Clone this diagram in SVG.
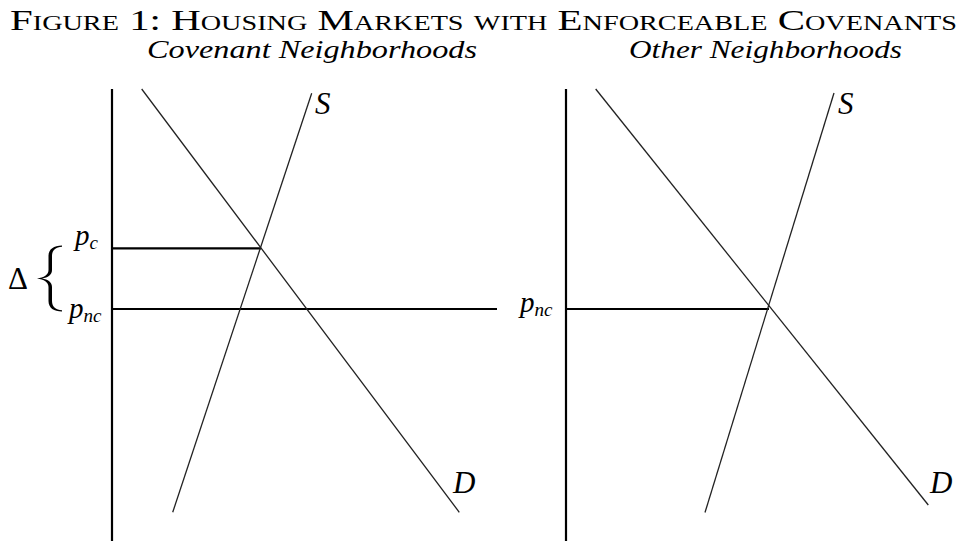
<svg xmlns="http://www.w3.org/2000/svg" width="962" height="541" viewBox="0 0 962 541">
<style>
.axis{stroke:#000;stroke-width:2.2;fill:none}
.hline{stroke:#000;stroke-width:2.2;fill:none}
.curve{stroke:#222;stroke-width:1.3;fill:none}
.lbl{font-family:"Liberation Serif",serif;font-style:italic;fill:#000}
.title{font-family:"Liberation Serif",serif;font-variant:small-caps;font-size:29px;fill:#000}
.sub{font-family:"Liberation Serif",serif;font-style:italic;font-size:26px;fill:#000}
</style>
<rect width="962" height="541" fill="#fff"/>
<g id="title">
<text class="title" x="10" y="30" textLength="947" lengthAdjust="spacingAndGlyphs">Figure 1: Housing Markets with Enforceable Covenants</text>
<text class="sub" x="147" y="58" textLength="330" lengthAdjust="spacingAndGlyphs">Covenant Neighborhoods</text>
<text class="sub" x="629" y="58" textLength="273" lengthAdjust="spacingAndGlyphs">Other Neighborhoods</text>
</g>
<g id="left-panel">
<line class="axis" x1="112" y1="89" x2="112" y2="541"/>
<line class="hline" x1="112" y1="248.3" x2="261" y2="248.3"/>
<line class="hline" x1="112" y1="309" x2="497" y2="309"/>
<line id="left-D" class="curve" x1="141.7" y1="89" x2="459.3" y2="512.3"/>
<line id="left-S" class="curve" x1="311.7" y1="93.3" x2="172.7" y2="512.3"/>
<text class="lbl" x="315" y="114" font-size="31">S</text>
<text class="lbl" x="453" y="493" font-size="31">D</text>
<text class="lbl" x="75" y="245" font-size="29">p<tspan font-size="19" dy="4">c</tspan></text>
<text class="lbl" x="69" y="318" font-size="29">p<tspan font-size="19" dy="4">nc</tspan></text>
<text x="8" y="289" font-family="Liberation Serif,serif" font-size="31">Δ</text>
<path d="M62 245.5 C54 245.5 48.5 249 48.5 256 L48.5 270 C48.5 275 44 277.5 37 278.5 C44 279.5 48.5 282 48.5 287 L48.5 301 C48.5 308 54 311.5 62 311.5 L62 310.3 C56 310 52 307 52 301 L52 287 C52 282 48 279.5 42 278.5 C48 277.5 52 275 52 270 L52 256 C52 250 56 247 62 246.7 Z" fill="#000"/>
</g>
<g id="right-panel">
<line class="axis" x1="566" y1="89" x2="566" y2="541"/>
<line class="hline" x1="566" y1="309" x2="769" y2="309"/>
<line id="right-D" class="curve" x1="595.7" y1="89" x2="928.3" y2="505"/>
<line id="right-S" class="curve" x1="834" y1="93" x2="705" y2="512.5"/>
<text class="lbl" x="838" y="114" font-size="31">S</text>
<text class="lbl" x="930" y="493" font-size="31">D</text>
<text class="lbl" x="520" y="312" font-size="29">p<tspan font-size="19" dy="4">nc</tspan></text>
</g>
</svg>
